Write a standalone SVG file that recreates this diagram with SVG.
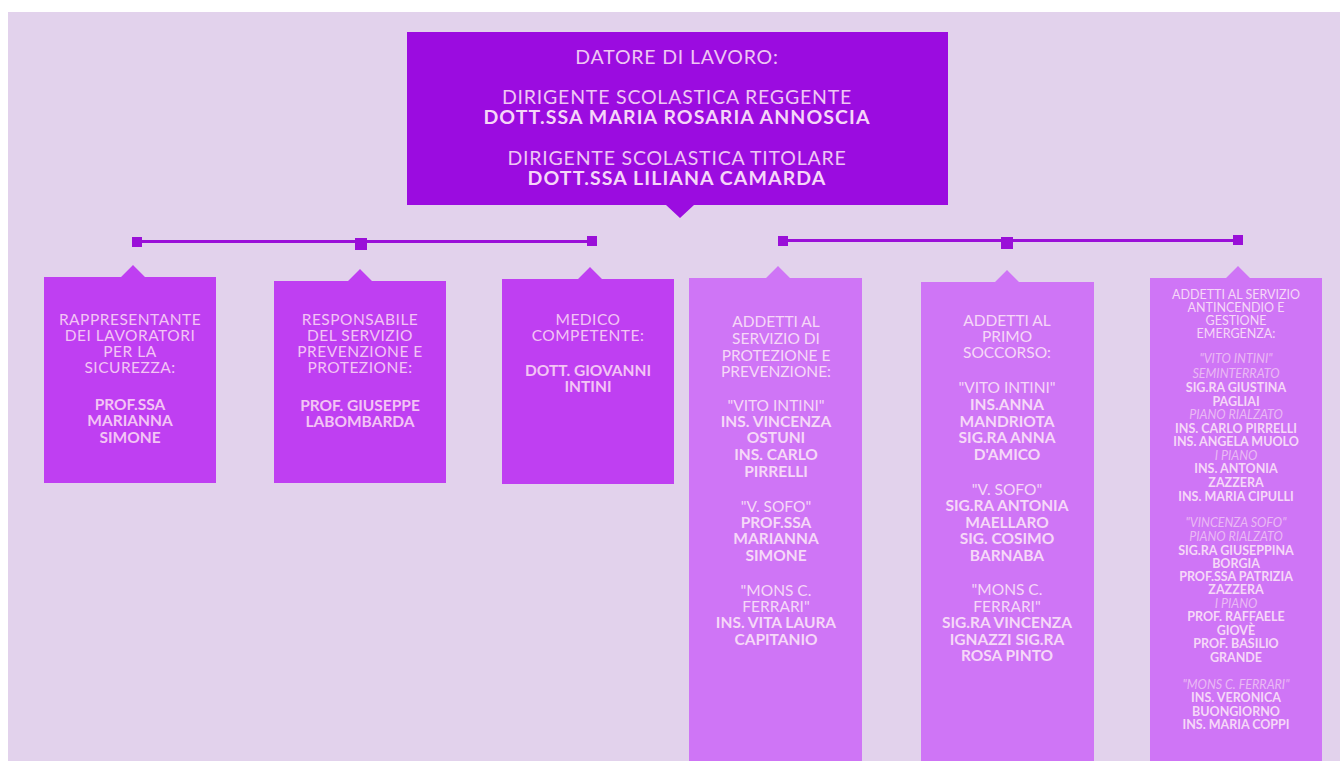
<svg xmlns="http://www.w3.org/2000/svg" width="1340" height="761" viewBox="0 0 1340 761">
<style>
text{font-family:Lato,"Open Sans","Liberation Sans",sans-serif;text-anchor:middle}
.top{font-size:19.5px;fill:#efc6f4;letter-spacing:0.8px}
.tb{font-weight:bold;fill:#f6d6f8;letter-spacing:1.1px}
.l{font-size:15.5px;fill:#f3c4f5;letter-spacing:0.5px}
.r{font-size:15.5px;fill:#f6d8f8}
.s{font-size:12.5px;fill:#f6d8f8}
.b{font-weight:bold;letter-spacing:0}
.i{font-style:italic;fill:#eab9f4}
.dark{fill:#9b0ce0}
.mid{fill:#bf3ff2}
.light{fill:#cf75f6}
.ln{stroke:#9a10d8;stroke-width:3;fill:none}
.sq{fill:#9a10d8}
</style>
<rect x="0" y="0" width="1340" height="761" fill="#ffffff"/>
<rect x="8" y="12" width="1332" height="749" fill="#e2d2ec"/>

<g id="connectors">
<line class="ln" x1="137" y1="241.5" x2="592" y2="241.5"/>
<rect class="sq" x="132" y="237" width="10" height="10"/>
<rect class="sq" x="355" y="238" width="12" height="12"/>
<rect class="sq" x="587" y="236" width="10" height="10"/>
<line class="ln" x1="783" y1="240.5" x2="1238" y2="240.5"/>
<rect class="sq" x="778" y="236" width="10" height="10"/>
<rect class="sq" x="1001" y="237" width="12" height="12"/>
<rect class="sq" x="1233" y="235" width="10" height="10"/>
</g>

<g id="datore">
<path class="dark" d="M407 32H948V205H694L680 218L666 205H407Z"/>
<text class="top" x="677" y="64">DATORE DI LAVORO:</text>
<text class="top" x="677" y="104">DIRIGENTE SCOLASTICA REGGENTE</text>
<text class="top tb" x="677" y="124">DOTT.SSA MARIA ROSARIA ANNOSCIA</text>
<text class="top" x="677" y="165">DIRIGENTE SCOLASTICA TITOLARE</text>
<text class="top tb" x="677" y="185">DOTT.SSA LILIANA CAMARDA</text>
</g>

<g id="rls">
<path class="mid" d="M44 277H121L133 265L145 277H216V483H44Z"/>
<text class="l" x="130" y="325">RAPPRESENTANTE</text>
<text class="l" x="130" y="341">DEI LAVORATORI</text>
<text class="l" x="130" y="357">PER LA</text>
<text class="l" x="130" y="373">SICUREZZA:</text>
<text class="l b" x="130" y="410">PROF.SSA</text>
<text class="l b" x="130" y="426">MARIANNA</text>
<text class="l b" x="130" y="443">SIMONE</text>
</g>

<g id="rspp">
<path class="mid" d="M274 281H348L360 269L372 281H446V483H274Z"/>
<text class="l" x="360" y="325">RESPONSABILE</text>
<text class="l" x="360" y="341">DEL SERVIZIO</text>
<text class="l" x="360" y="357">PREVENZIONE E</text>
<text class="l" x="360" y="373">PROTEZIONE:</text>
<text class="l b" x="360" y="411">PROF. GIUSEPPE</text>
<text class="l b" x="360" y="427">LABOMBARDA</text>
</g>

<g id="medico">
<path class="mid" d="M502 279H578L590 267L602 279H674V484H502Z"/>
<text class="l" x="588" y="325">MEDICO</text>
<text class="l" x="588" y="341">COMPETENTE:</text>
<text class="l b" x="588" y="376">DOTT. GIOVANNI</text>
<text class="l b" x="588" y="392">INTINI</text>
</g>

<g id="aspp">
<path class="light" d="M689 278H766L778 266L790 278H862V761H689Z"/>
<text class="r" x="776" y="327">ADDETTI AL</text>
<text class="r" x="776" y="344">SERVIZIO DI</text>
<text class="r" x="776" y="361">PROTEZIONE E</text>
<text class="r" x="776" y="377">PREVENZIONE:</text>
<text class="r" x="776" y="411">"VITO INTINI"</text>
<text class="r b" x="776" y="427">INS. VINCENZA</text>
<text class="r b" x="776" y="443">OSTUNI</text>
<text class="r b" x="776" y="460">INS. CARLO</text>
<text class="r b" x="776" y="477">PIRRELLI</text>
<text class="r" x="776" y="512">"V. SOFO"</text>
<text class="r b" x="776" y="528">PROF.SSA</text>
<text class="r b" x="776" y="544">MARIANNA</text>
<text class="r b" x="776" y="561">SIMONE</text>
<text class="r" x="776" y="596">"MONS C.</text>
<text class="r" x="776" y="612">FERRARI"</text>
<text class="r b" x="776" y="628">INS. VITA LAURA</text>
<text class="r b" x="776" y="645">CAPITANIO</text>
</g>

<g id="primo-soccorso">
<path class="light" d="M921 282H995L1007 270L1019 282H1094V761H921Z"/>
<text class="r" x="1007" y="326">ADDETTI AL</text>
<text class="r" x="1007" y="342">PRIMO</text>
<text class="r" x="1007" y="358">SOCCORSO:</text>
<text class="r" x="1007" y="393">"VITO INTINI"</text>
<text class="r b" x="1007" y="410">INS.ANNA</text>
<text class="r b" x="1007" y="427">MANDRIOTA</text>
<text class="r b" x="1007" y="443">SIG.RA ANNA</text>
<text class="r b" x="1007" y="460">D'AMICO</text>
<text class="r" x="1007" y="495">"V. SOFO"</text>
<text class="r b" x="1007" y="511">SIG.RA ANTONIA</text>
<text class="r b" x="1007" y="528">MAELLARO</text>
<text class="r b" x="1007" y="544">SIG. COSIMO</text>
<text class="r b" x="1007" y="561">BARNABA</text>
<text class="r" x="1007" y="595">"MONS C.</text>
<text class="r" x="1007" y="612">FERRARI"</text>
<text class="r b" x="1007" y="628">SIG.RA VINCENZA</text>
<text class="r b" x="1007" y="645">IGNAZZI SIG.RA</text>
<text class="r b" x="1007" y="661">ROSA PINTO</text>
</g>

<g id="antincendio">
<path class="light" d="M1150 278H1226L1238 266L1250 278H1322V761H1150Z"/>
<text class="s" x="1236" y="299">ADDETTI AL SERVIZIO</text>
<text class="s" x="1236" y="312">ANTINCENDIO E</text>
<text class="s" x="1236" y="325">GESTIONE</text>
<text class="s" x="1236" y="338">EMERGENZA:</text>
<text class="s i" x="1236" y="363">"VITO INTINI"</text>
<text class="s i" x="1236" y="378">SEMINTERRATO</text>
<text class="s b" x="1236" y="392">SIG.RA GIUSTINA</text>
<text class="s b" x="1236" y="406">PAGLIAI</text>
<text class="s i" x="1236" y="419">PIANO RIALZATO</text>
<text class="s b" x="1236" y="433">INS. CARLO PIRRELLI</text>
<text class="s b" x="1236" y="446">INS. ANGELA MUOLO</text>
<text class="s i" x="1236" y="460">I PIANO</text>
<text class="s b" x="1236" y="473">INS. ANTONIA</text>
<text class="s b" x="1236" y="487">ZAZZERA</text>
<text class="s b" x="1236" y="501">INS. MARIA CIPULLI</text>
<text class="s i" x="1236" y="527">"VINCENZA SOFO"</text>
<text class="s i" x="1236" y="541">PIANO RIALZATO</text>
<text class="s b" x="1236" y="555">SIG.RA GIUSEPPINA</text>
<text class="s b" x="1236" y="568">BORGIA</text>
<text class="s b" x="1236" y="581">PROF.SSA PATRIZIA</text>
<text class="s b" x="1236" y="594">ZAZZERA</text>
<text class="s i" x="1236" y="608">I PIANO</text>
<text class="s b" x="1236" y="621">PROF. RAFFAELE</text>
<text class="s b" x="1236" y="635">GIOVÈ</text>
<text class="s b" x="1236" y="648">PROF. BASILIO</text>
<text class="s b" x="1236" y="662">GRANDE</text>
<text class="s i" x="1236" y="689">"MONS C. FERRARI"</text>
<text class="s b" x="1236" y="702">INS. VERONICA</text>
<text class="s b" x="1236" y="716">BUONGIORNO</text>
<text class="s b" x="1236" y="729">INS. MARIA COPPI</text>
</g>
</svg>
